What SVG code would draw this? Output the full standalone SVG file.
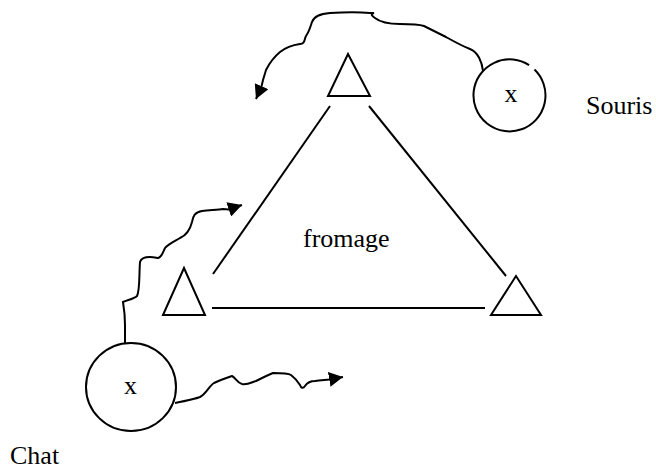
<svg xmlns="http://www.w3.org/2000/svg" width="656" height="470" viewBox="0 0 656 470">
<style>
.s{fill:none;stroke:#000;stroke-width:2}
.t{font-family:"Liberation Serif","Times New Roman",serif;font-size:26px;fill:#000}
.c{fill:none;stroke:#000;stroke-width:2;marker-end:url(#ah)}
</style>
<defs>
<marker id="ah" markerUnits="userSpaceOnUse" markerWidth="15" markerHeight="15" viewBox="0 0 15 15" refX="14" refY="7.5" orient="auto">
<path d="M0,0 L14,7.5 L0,15 z" fill="#000"/>
</marker>
</defs>
<rect width="656" height="470" fill="#fff"/>
<g id="triangle">
<line class="s" x1="213" y1="274" x2="330" y2="106"/>
<line class="s" x1="369" y1="106" x2="506" y2="276"/>
<line class="s" x1="212" y1="308" x2="485" y2="308"/>
</g>
<g id="fromage"><text class="t" x="303" y="247">fromage</text></g>
<g id="sommet-haut"><polygon class="s" points="348,54 328,96 370,96"/></g>
<g id="sommet-gauche"><polygon class="s" points="184,268 163,315 205,315"/></g>
<g id="sommet-droit"><polygon class="s" points="516,276 491,315 541,315"/></g>
<g id="souris">
<path class="s" d="M534.5,69.5 A36,36 0 1 1 529.1,65.2"/>
<text class="t" x="511" y="102" text-anchor="middle">x</text>
<text class="t" x="586" y="114">Souris</text>
</g>
<g id="chat">
<ellipse class="s" cx="131" cy="387" rx="45" ry="44"/>
<text class="t" x="130.5" y="394" text-anchor="middle">x</text>
<text class="t" x="10" y="464">Chat</text>
</g>
<g id="connecteurs">
<path class="c" d="M483,71 C482,62 478,52 470,49 C462,46 455,42 446,37 C440,34 432,30 424,26 C418,24 410,24 400,24 C390,24 380,22 375,18 C372,16 370,14 374,13 L370,13 C360,12 345,12 330,13 C320,14 314,16 312,22 C310,28 309,32 306,36 C304,40 305,44 300,44 C293,45 285,48 280,52 C274,57 270,62 266,70 L263,80 L261.5,86.5 L256,99"/>
<path class="c" d="M125,343 L125,325 C125,315 124,308 123,302 C127,300 134,299 137,296 C140,290 139,275 140,262 C141,258 144,257 150,257 C154,257 157,258 158,258 C162,257 163,252 165,248 C168,244 175,241 180,238 C187,235 190,230 192,222 C193,216 195,212 202,211 C210,210 218,210 223,209 L228.5,209.5 L242,205"/>
<path class="c" d="M175,403 C185,401 195,399 200,397 C206,394 209,386 214,383 C220,380 226,378 232,376 C236,378 237,383 242,384 C248,385 252,382 256,381 C262,378 268,375 273,373 C280,373 288,373 291,375 C295,378 298,382 300,385 C301,388 303,389 305,386 C307,383 309,381 315,381 C320,380 325,380 329,379.5 L343,377"/>
</g>
</svg>
